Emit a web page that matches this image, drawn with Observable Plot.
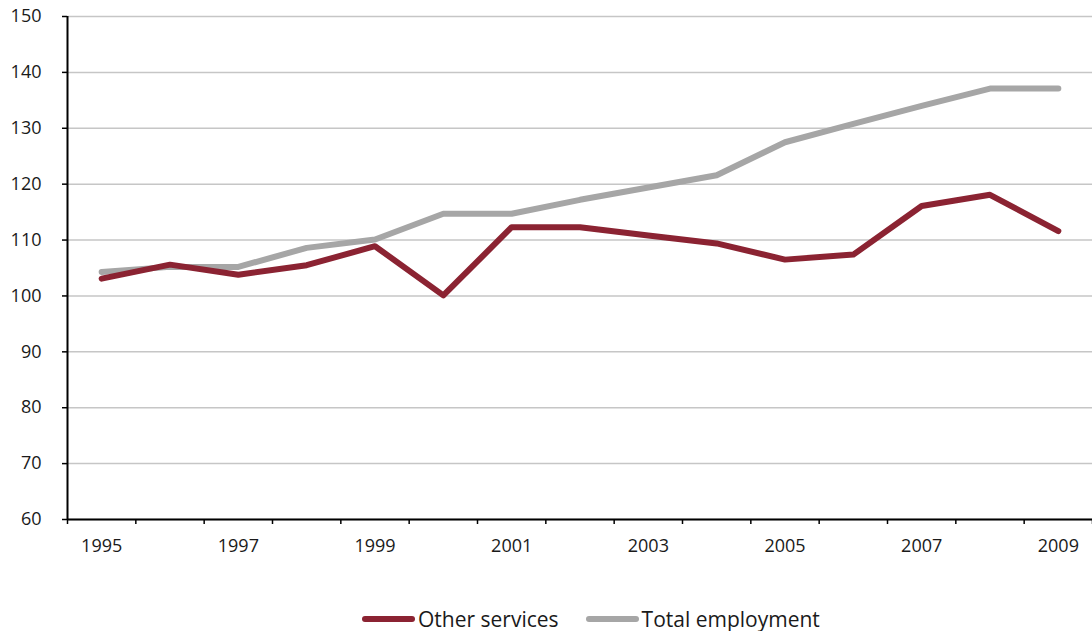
<!DOCTYPE html>
<html><head><meta charset="utf-8">
<script src="https://cdn.jsdelivr.net/npm/d3@7"></script>
<script src="https://cdn.jsdelivr.net/npm/@observablehq/plot@0.6"></script>
<style>
body{margin:0;background:#fff;font-family:"Open Sans",sans-serif;}
#chart{position:absolute;left:0;top:0;}
#legend{position:absolute;top:605px;left:362px;display:flex;align-items:center;font-size:21px;line-height:28px;color:#1a1a1a;white-space:nowrap;}
.sw{display:inline-block;width:53px;height:6px;border-radius:3px;margin-right:3px;}
.item{display:flex;align-items:center;margin-right:27px;}
</style></head><body><div id="chart"></div><div id="legend"></div>
<script>
const years = [1995,1996,1997,1998,1999,2000,2001,2002,2003,2004,2005,2006,2007,2008,2009];
const otherServices = [103.1,105.6,103.8,105.5,108.9,100.1,112.3,112.3,110.8,109.4,106.5,107.4,116.1,118.1,111.6];
const totalEmployment = [104.3,105.2,105.2,108.6,110.1,114.7,114.7,117.2,119.4,121.6,127.5,130.8,134.0,137.1,137.1];
const yTicks = [60,70,80,90,100,110,120,130,140,150];
const xLabelYears = [1995,1997,1999,2001,2003,2005,2007,2009];
const seriesNames = ["Other services","Total employment"];
const seriesColors = ["#8B2332","#A6A6A6"];

const tickBounds = years.map(y => y - 0.5).concat([years[years.length-1] + 0.5]);

const plot = Plot.plot({
  width: 1092, height: 580,
  marginLeft: 67, marginRight: 0, marginTop: 16, marginBottom: 61,
  style: {fontFamily: "'Open Sans', sans-serif", fontSize: "18px", color: "#1a1a1a", background: "white", overflow: "visible"},
  x: {domain: [years[0] - 0.5, years[years.length-1] + 0.5]},
  y: {domain: [60, 150]},
  marks: [
    Plot.gridY(yTicks, {stroke: "#c6c6c6", strokeOpacity: 1, strokeWidth: 1.5}),
    Plot.axisY(yTicks, {tickSize: 5, tickPadding: 21, label: null, stroke: "#000", strokeWidth: 1.5, fill: "#1a1a1a", fontSize: 18}),
    Plot.axisX(tickBounds, {tickSize: 5, tickFormat: () => "", label: null, stroke: "#000", strokeWidth: 1.5}),
    Plot.axisX(xLabelYears, {tickSize: 0, tickPadding: 20, tickFormat: d => String(d), label: null, fill: "#1a1a1a", fontSize: 18}),
    Plot.ruleX([years[0] - 0.5], {stroke: "#000", strokeWidth: 2}),
    Plot.ruleY([60], {stroke: "#000", strokeWidth: 2}),
    Plot.line(years, {x: d => d, y: (d, i) => totalEmployment[i], stroke: seriesColors[1], strokeWidth: 6, strokeLinecap: "round", strokeLinejoin: "round"}),
    Plot.line(years, {x: d => d, y: (d, i) => otherServices[i], stroke: seriesColors[0], strokeWidth: 6, strokeLinecap: "round", strokeLinejoin: "round"})
  ]
});
document.getElementById("chart").appendChild(plot);

const legend = document.getElementById("legend");
seriesNames.forEach((name, i) => {
  const item = document.createElement("div");
  item.className = "item";
  const sw = document.createElement("span");
  sw.className = "sw";
  sw.style.background = seriesColors[i];
  const t = document.createElement("span");
  t.textContent = name;
  item.appendChild(sw); item.appendChild(t);
  legend.appendChild(item);
});
</script>
</body></html>
